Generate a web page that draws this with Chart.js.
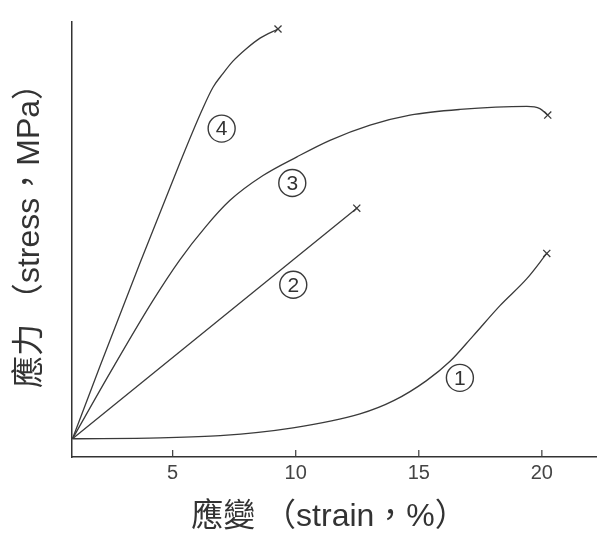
<!DOCTYPE html>
<html>
<head>
<meta charset="utf-8">
<script src="https://cdn.jsdelivr.net/npm/chart.js@4.4.1/dist/chart.umd.min.js"></script>
<style>
  html, body { margin: 0; padding: 0; background: #fff; }
  #wrap { width: 605px; height: 540px; }
</style>
</head>
<body>
<div id="wrap"><canvas id="chart"></canvas></div>
<script>
// strain (%) / stress (arbitrary, 0-100 of axis height)
const strain1 = [0.93, 4.49, 6.93, 9.89, 12.61, 14.0, 15.3, 16.27, 17.2, 18.3, 19.39, 20.2];
const stress1 = [4.2, 4.4, 4.9, 6.7, 9.9, 13.0, 17.5, 22.0, 27.8, 34.8, 41.0, 46.8];

const strain2 = [0.93, 12.48];
const stress2 = [4.2, 57.2];

const strain3 = [0.93, 2.46, 4.19, 5.3, 6.32, 7.33, 8.67, 10.05, 11.39, 13.02, 14.64, 16.67, 19.39, 19.92, 20.24];
const stress3 = [4.2, 19.4, 35.9, 45.4, 52.8, 59.0, 64.7, 69.0, 72.8, 76.3, 78.6, 79.9, 80.6, 80.1, 78.6];

const strain4 = [0.93, 2.05, 3.68, 5.3, 6.19, 6.64, 7.05, 7.45, 7.98, 8.55, 9.28];
const stress4 = [4.2, 20.9, 44.7, 67.7, 79.7, 85.0, 88.2, 91.0, 93.8, 96.3, 98.4];

const xTicks = [5, 10, 15, 20];

const curveNames = ['1', '2', '3', '4'];
const nameStrain = [16.67, 9.9, 9.86, 6.99];
const nameStress = [18.2, 39.6, 63.0, 75.5];

const xTitle = '應變 （strain，%）';
const yTitle = '應力 （stress，MPa）';

const ink = '#3a3a3a';
const fontFam = '"Liberation Sans", "Noto Sans CJK TC", sans-serif';

function curve(xs, ys) {
  return {
    data: xs.map((v, i) => ({ x: v, y: ys[i] })),
    borderColor: ink,
    borderWidth: 1.3,
    fill: false,
    cubicInterpolationMode: 'monotone',
    pointStyle: 'crossRot',
    pointRadius: xs.map((v, i) => i === xs.length - 1 ? 5 : 0),
    pointBorderColor: ink,
    pointBorderWidth: 1.3,
    clip: false
  };
}

// inward tick marks, circled curve numbers and the two axis titles
const marks = {
  id: 'marks',
  afterDatasetsDraw(chart) {
    const { ctx, chartArea, scales: { x, y } } = chart;
    ctx.save();
    ctx.strokeStyle = ink;
    ctx.lineWidth = 1.2;
    xTicks.forEach(v => {
      const px = x.getPixelForValue(v);
      ctx.beginPath();
      ctx.moveTo(px, y.bottom);
      ctx.lineTo(px, y.bottom - 7);
      ctx.stroke();
    });

    ctx.font = '21px ' + fontFam;
    ctx.fillStyle = '#333';
    ctx.textAlign = 'center';
    ctx.textBaseline = 'middle';
    ctx.lineWidth = 1.4;
    curveNames.forEach((t, i) => {
      const cx = x.getPixelForValue(nameStrain[i]);
      const cy = y.getPixelForValue(nameStress[i]);
      ctx.beginPath();
      ctx.arc(cx, cy, 13.5, 0, Math.PI * 2);
      ctx.stroke();
      ctx.fillText(t, cx, cy + 1);
    });

    ctx.font = '32px ' + fontFam;
    ctx.fillText(xTitle, chartArea.left + 257, chartArea.bottom + 60);
    ctx.translate(chartArea.left - 42, chartArea.top + 206);
    ctx.rotate(-Math.PI / 2);
    ctx.fillText(yTitle, 0, 0);
    ctx.restore();
  }
};

new Chart(document.getElementById('chart'), {
  type: 'line',
  data: {
    datasets: [
      curve(strain1, stress1),
      curve(strain2, stress2),
      curve(strain3, stress3),
      curve(strain4, stress4)
    ]
  },
  options: {
    responsive: true,
    maintainAspectRatio: false,
    animation: false,
    layout: { padding: { top: 22, right: 9, left: 72, bottom: 51 } },
    plugins: {
      legend: { display: false },
      tooltip: { enabled: false }
    },
    scales: {
      x: {
        type: 'linear',
        min: 0.91,
        max: 22.2,
        afterBuildTicks: scale => { scale.ticks = xTicks.map(v => ({ value: v })); },
        grid: { display: false, drawTicks: false },
        border: { color: '#333', width: 1.5 },
        ticks: {
          color: '#444',
          padding: 4,
          maxRotation: 0,
          font: { family: fontFam, size: 20 }
        }
      },
      y: {
        min: 0,
        max: 100,
        grid: { display: false, drawTicks: false },
        border: { color: '#333', width: 1.5 },
        ticks: { display: false }
      }
    }
  },
  plugins: [marks]
});
</script>
</body>
</html>
